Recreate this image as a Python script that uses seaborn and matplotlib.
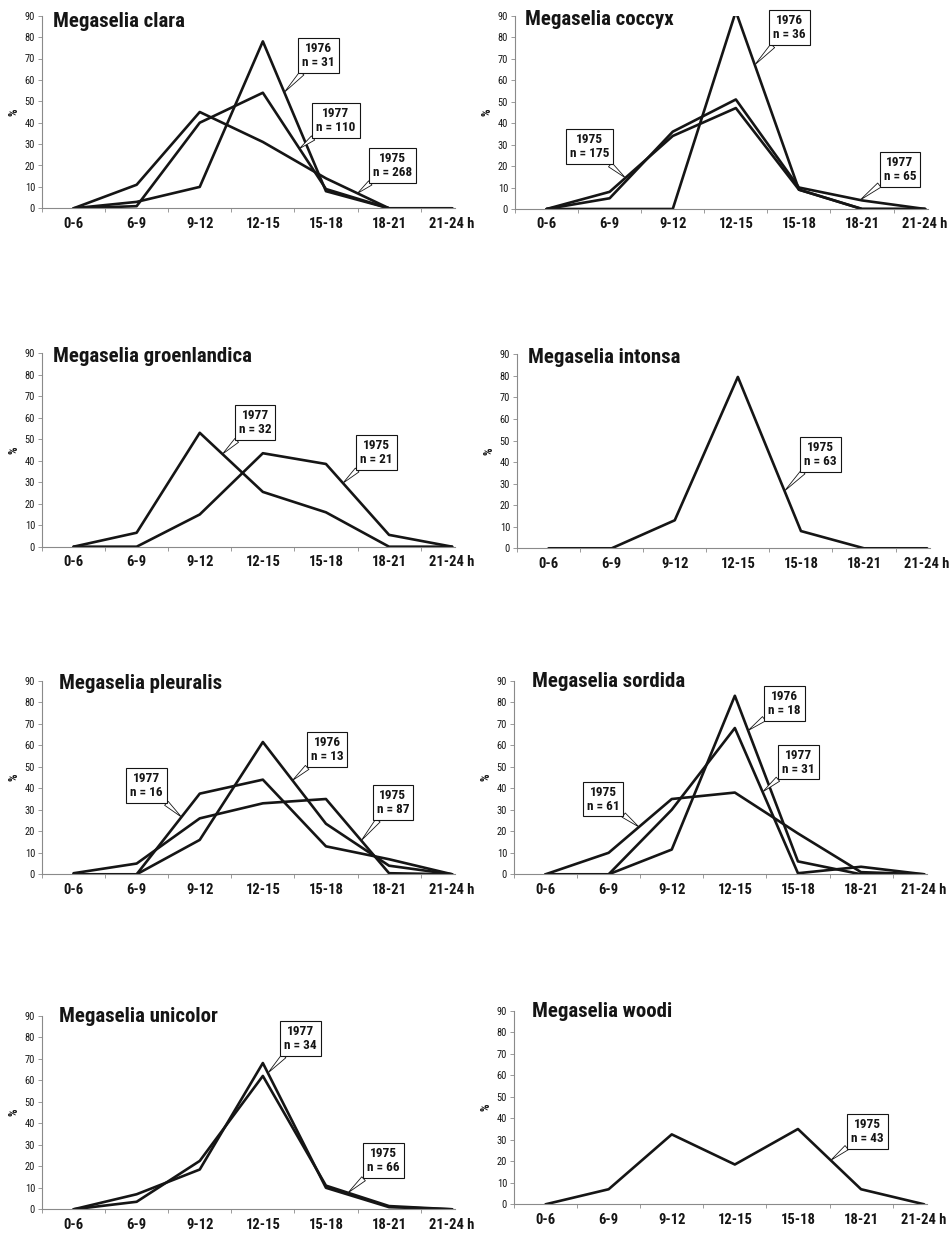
import numpy as np
import pandas as pd
import matplotlib
matplotlib.use("Agg")
import matplotlib.pyplot as plt
from matplotlib import font_manager
import seaborn as sns

# ---- data: percentage of catches per time-of-day interval ----
hours = ["0-6", "6-9", "9-12", "12-15", "15-18", "18-21", "21-24 h"]

clara_1975 = [0, 11, 45, 31, 14, 0, 0]
clara_1976 = [0, 3, 10, 78, 8, 0, 0]
clara_1977 = [0, 1, 40, 54, 9, 0, 0]

coccyx_1975 = [0, 8, 34, 47, 9, 0, 0]
coccyx_1976 = [0, 0, 0, 92, 9, 0, 0]
coccyx_1977 = [0, 5, 36, 51, 10, 4, 0]

groenlandica_1975 = [0, 0, 15, 43.5, 38.5, 5.5, 0]
groenlandica_1977 = [0, 6.5, 53, 25.5, 16, 0, 0]

intonsa_1975 = [0, 0, 13, 79.5, 8, 0, 0]

pleuralis_1975 = [0.5, 5, 26, 33, 35, 0.5, 0]
pleuralis_1976 = [0, 0, 16, 61.5, 23.5, 4, 0]
pleuralis_1977 = [0, 0, 37.5, 44, 13, 7, 0]

sordida_1975 = [0, 10, 35, 38, 19, 1, 0]
sordida_1976 = [0, 0, 11.5, 83, 6, 0, 0]
sordida_1977 = [0, 0, 30, 68, 0.5, 3.5, 0]

unicolor_1975 = [0, 3.5, 22.5, 62, 11, 1.5, 0]
unicolor_1977 = [0, 7, 18.5, 68, 10, 1, 0]

woodi_1975 = [0, 7, 32.5, 18.5, 35, 7, 0]

species = ["Megaselia clara", "Megaselia coccyx", "Megaselia groenlandica",
           "Megaselia intonsa", "Megaselia pleuralis", "Megaselia sordida",
           "Megaselia unicolor", "Megaselia woodi"]

# per species: {year: (values, sample size)}
series = [
    {"1975": (clara_1975, 268), "1976": (clara_1976, 31), "1977": (clara_1977, 110)},
    {"1975": (coccyx_1975, 175), "1976": (coccyx_1976, 36), "1977": (coccyx_1977, 65)},
    {"1975": (groenlandica_1975, 21), "1977": (groenlandica_1977, 32)},
    {"1975": (intonsa_1975, 63)},
    {"1975": (pleuralis_1975, 87), "1976": (pleuralis_1976, 13), "1977": (pleuralis_1977, 16)},
    {"1975": (sordida_1975, 61), "1976": (sordida_1976, 18), "1977": (sordida_1977, 31)},
    {"1975": (unicolor_1975, 66), "1977": (unicolor_1977, 34)},
    {"1975": (woodi_1975, 43)},
]

# callout placement: year -> (box x, box y, x where the leader meets the line)
callouts = [
    {"1976": (3.88, 71.5, 3.34), "1977": (4.16, 41.2, 3.58), "1975": (5.05, 20.2, 4.50)},
    {"1976": (3.85, 84.3, 3.30), "1975": (0.68, 28.9, 1.25), "1977": (5.60, 18.6, 4.97)},
    {"1977": (2.88, 57.8, 2.36), "1975": (4.80, 44.0, 4.27)},
    {"1975": (4.31, 43.7, 3.74)},
    {"1976": (4.02, 58.0, 3.47), "1977": (1.16, 41.3, 1.71), "1975": (5.06, 33.4, 4.56)},
    {"1976": (3.79, 79.4, 3.21), "1977": (4.01, 52.2, 3.44), "1975": (0.91, 35.0, 1.48)},
    {"1977": (3.60, 79.6, 3.08), "1975": (4.91, 22.5, 4.35)},
    {"1975": (5.10, 34.0, 4.52)},
]

# axes frames in pixels: (left, y of 90 %, y of 0 %)
W, H = 953, 1236
frames = [
    (42, 15.7, 208.3), (515, 15.7, 209.0),
    (42, 353.3, 546.7), (517, 354.3, 548.3),
    (42, 680.7, 874.3), (514, 680.7, 874.3),
    (42, 1015.7, 1209.3), (514, 1010.7, 1204.3),
]
title_pos = [(0.027, 0.941), (0.024, 0.952), (0.027, 0.957), (0.027, 0.957),
             (0.041, 0.956), (0.043, 0.969), (0.041, 0.969), (0.043, 0.969)]
cat_px = 63.1

sns.set_theme(style="white")

# prefer a narrow sans face for all labels
fonts = font_manager.fontManager.ttflist
names = {f.name for f in fonts}
family, stretch = "Liberation Sans", "normal"
for cand in ["Liberation Sans Narrow", "Arial Narrow", "Roboto Condensed",
             "Open Sans Condensed", "Noto Sans Condensed"]:
    if cand in names:
        family = cand
        break
else:
    for base in ["Roboto", "Noto Sans", "Open Sans"]:
        if any(f.name == base and f.stretch in ("condensed", "semi-condensed")
               and f.weight in ("bold", 700) for f in fonts):
            family, stretch = base, "condensed"
            break
plt.rcParams["font.family"] = [family, "DejaVu Sans"]
plt.rcParams["font.stretch"] = stretch

fig = plt.figure(figsize=(W / 100, H / 100), dpi=100)
fig.patch.set_facecolor("white")

ink = "#151515"
axis_gray = "#8a8a8a"
x_idx = np.arange(len(hours))

for k, name in enumerate(species):
    left, top, bottom = frames[k]
    width = cat_px * 6.55
    ax = fig.add_axes([left / W, 1 - bottom / H, width / W, (bottom - top) / H])

    frame = pd.DataFrame([
        {"hour": i, "pct": v, "year": yr}
        for yr, (vals, n) in series[k].items() for i, v in enumerate(vals)
    ])
    sns.lineplot(data=frame, x="hour", y="pct", units="year", estimator=None,
                 color=ink, lw=1.9, ax=ax, legend=False)

    ax.set_xlim(-0.5, 6.05)
    ax.set_ylim(0, 90)
    ax.set_yticks(np.arange(0, 91, 10))
    ax.set_xticks(x_idx)
    ax.set_xticklabels(hours, fontsize=10.5, fontweight="bold")
    ax.set_xticks(np.arange(-0.5, 6, 1.0), minor=True)
    ax.tick_params(axis="x", which="major", length=0, pad=6, colors=ink)
    ax.tick_params(axis="x", which="minor", length=3, width=0.6, color=axis_gray,
                   direction="out", bottom=True)
    ax.tick_params(axis="y", length=3, width=0.6, color=axis_gray, direction="out",
                   left=True, pad=2, labelsize=7.5, labelcolor=ink)
    ax.set_xlabel("")
    ax.set_ylabel("%", fontsize=8.5, fontweight="bold", color=ink, labelpad=3)
    for side in ["top", "right"]:
        ax.spines[side].set_visible(False)
    for side in ["left", "bottom"]:
        ax.spines[side].set_color(axis_gray)
        ax.spines[side].set_linewidth(0.8)
    ax.set_facecolor("white")
    ax.grid(False)

    tx, ty = title_pos[k]
    ax.text(tx, ty, name, transform=ax.transAxes, fontsize=15, fontweight="bold",
            color=ink, ha="left", va="baseline")

    for yr, (bx, by, tipx) in callouts[k].items():
        vals, n = series[k][yr]
        tipy = float(np.interp(tipx, x_idx, vals))
        ax.annotate(f"{yr}\nn = {n}", xy=(tipx, tipy), xytext=(bx, by),
                    ha="center", va="center", fontsize=9.5, fontweight="bold",
                    color=ink, linespacing=1.1,
                    bbox=dict(boxstyle="square,pad=0.3", fc="white", ec=ink, lw=0.8),
                    arrowprops=dict(arrowstyle="wedge,tail_width=0.4", fc="white",
                                    ec=ink, lw=0.6, shrinkA=0, shrinkB=0),
                    zorder=5)

fig.savefig("out.png", dpi=100, facecolor="white")
